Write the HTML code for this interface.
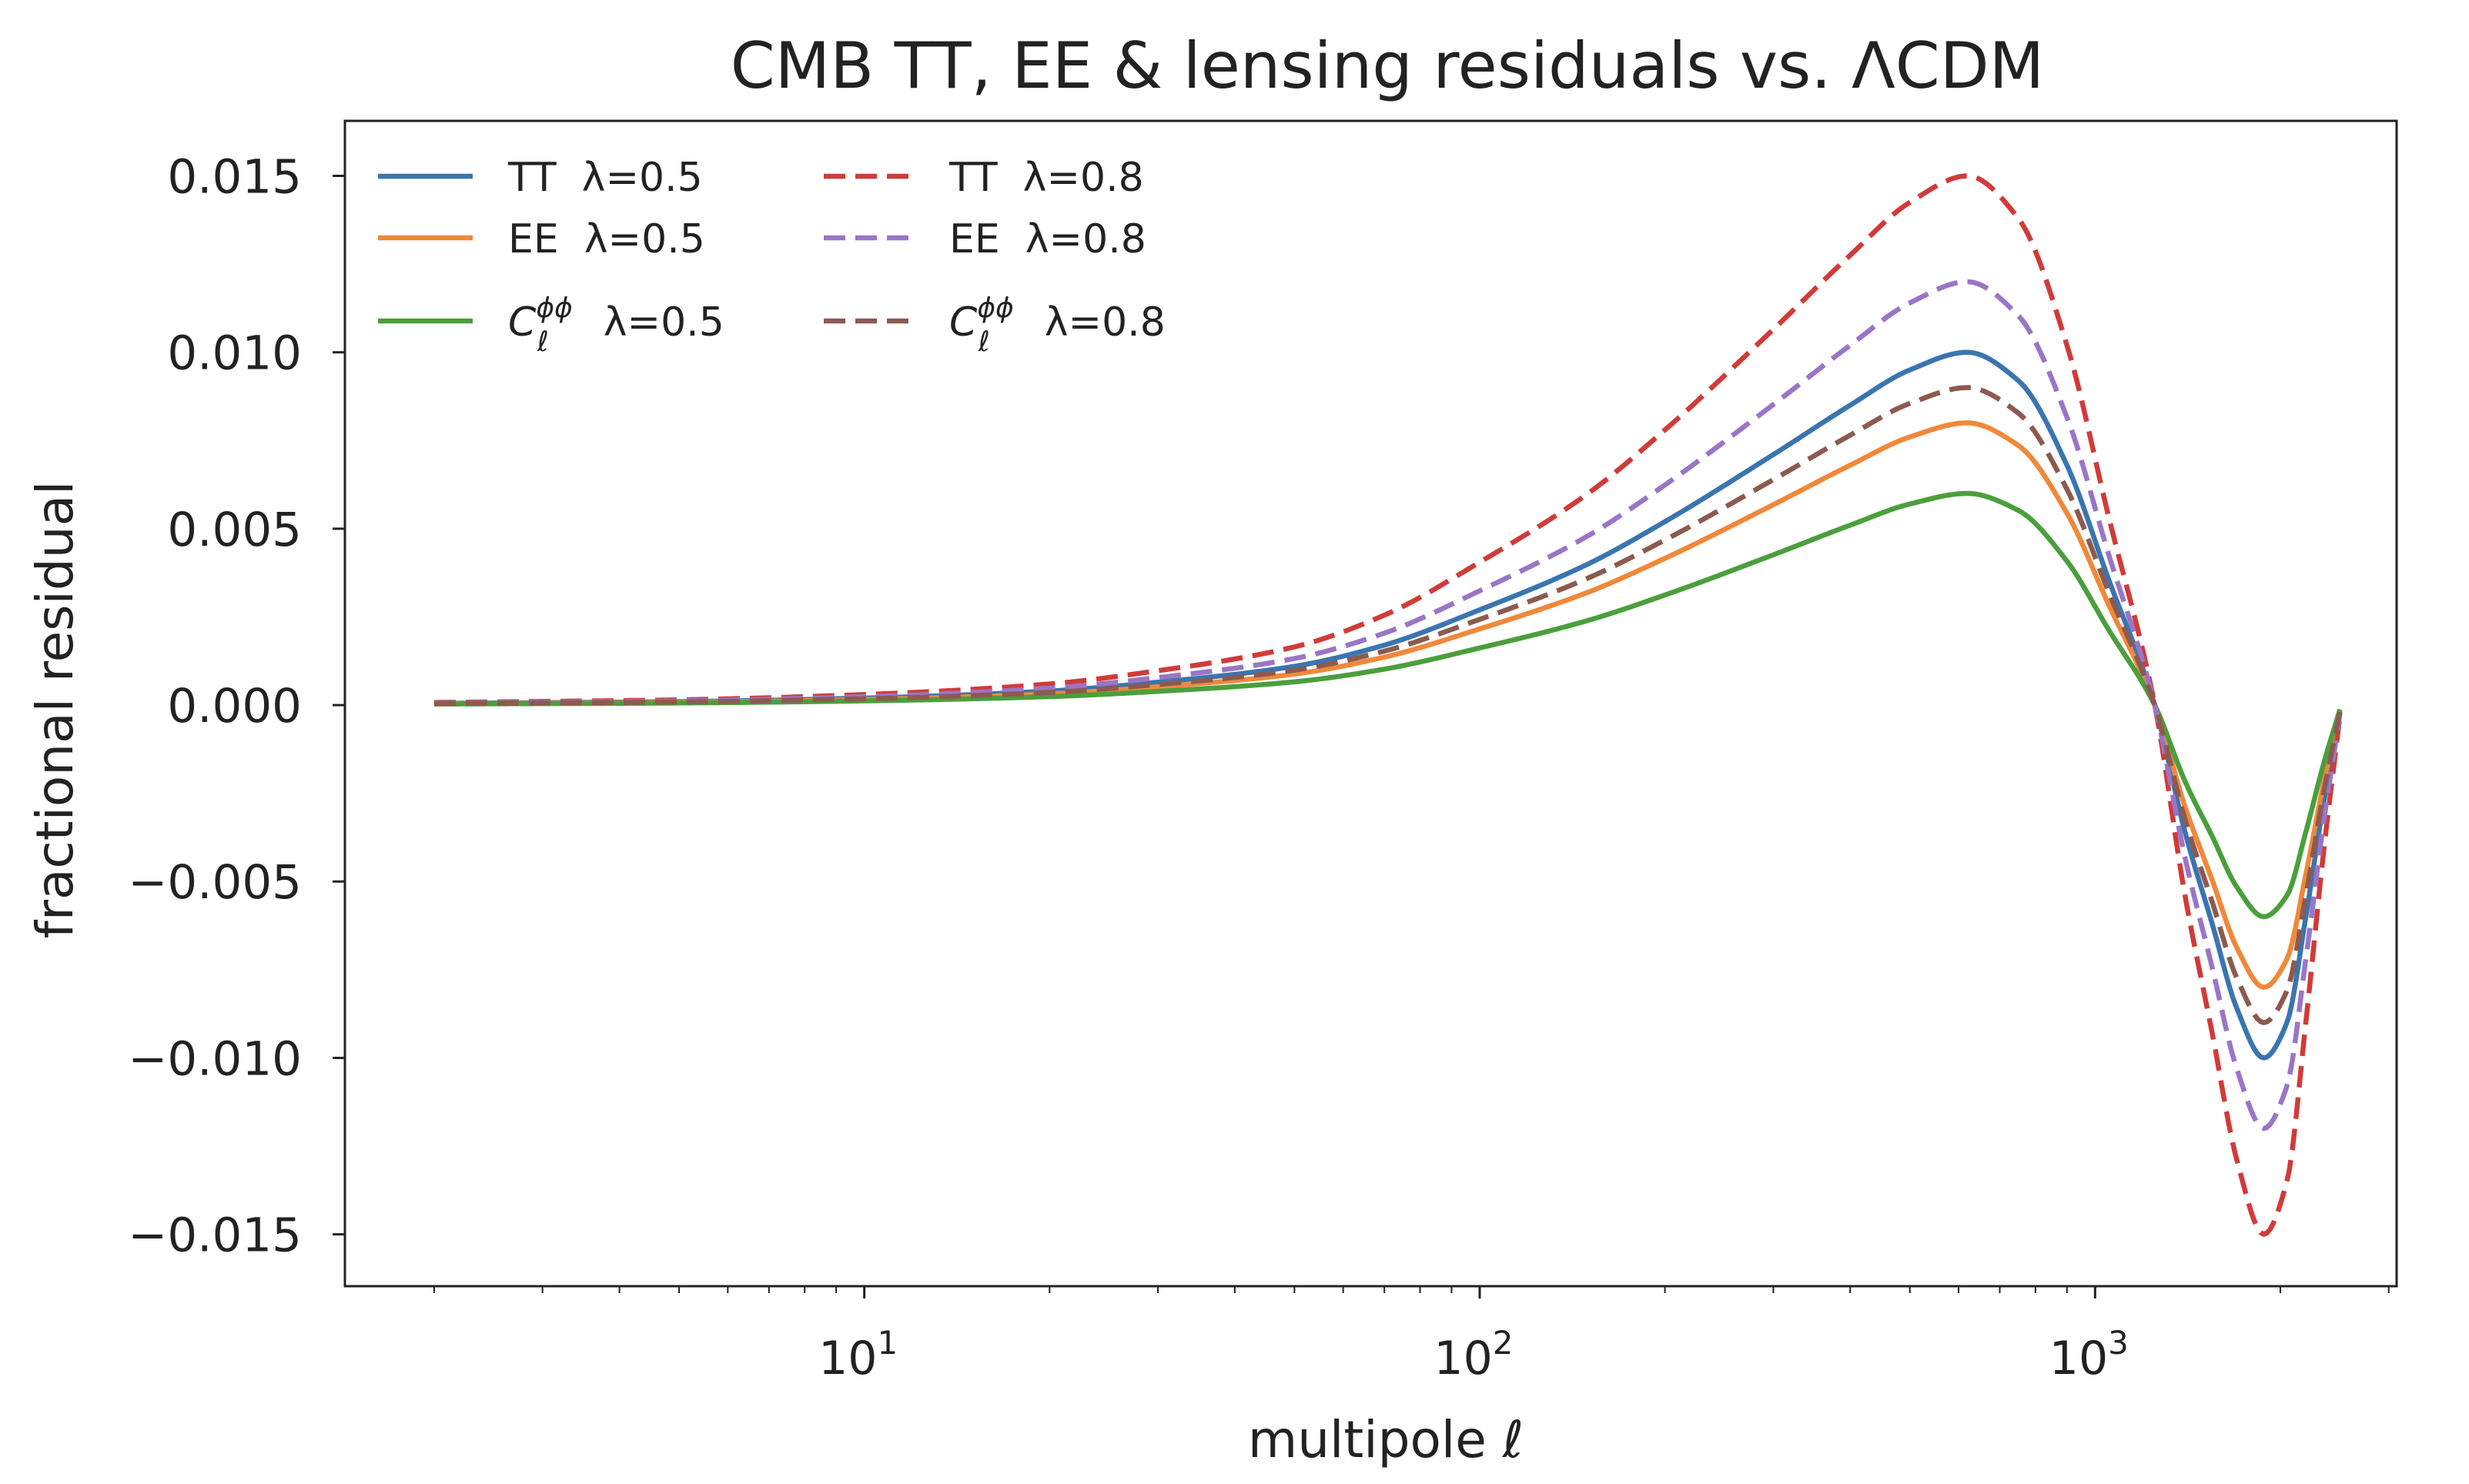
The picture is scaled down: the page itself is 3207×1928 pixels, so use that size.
<!DOCTYPE html>
<html><head><meta charset="utf-8"><style>
html,body{margin:0;padding:0;background:#fff;}
svg{display:block;font-family:"DejaVu Sans","Liberation Sans",sans-serif;}
</style></head><body>
<svg id="chart" width="3207" height="1928" viewBox="0 0 3207 1928" xmlns="http://www.w3.org/2000/svg">
<rect width="3207" height="1928" fill="#fff"/>
<text x="1802" y="114" font-size="83" text-anchor="middle" fill="#222">CMB TT, EE &amp; lensing residuals vs. ΛCDM</text>
<g id="plot"></g>
<text x="1800" y="1893" font-size="66" text-anchor="middle" fill="#222">multipole <tspan font-style="italic">ℓ</tspan></text>
<text x="0" y="0" font-size="66" text-anchor="middle" fill="#222" transform="translate(94,922) rotate(-90)">fractional residual</text>
<g id="legend"></g>
</svg>
<script>
const ells = [2,3,5,10,20,30,50,70,100,150,200,300,400,500,620,750,900,1050,1250,1400,1550,1700,1880,2050,2200,2350,2500];
const ttLam05 = [0.00005,0.00007,0.0001,0.0002,0.0004,0.00065,0.0011,0.0017,0.0027,0.004,0.0052,0.0071,0.0085,0.0095,0.01,0.0092,0.0068,0.0036,0,-0.0036,-0.0062,-0.0086,-0.01,-0.009,-0.006,-0.0028,-0.0002];
const eeLam05 = [0.00004,0.000056,0.00008,0.00016,0.00032,0.00052,0.00088,0.00136,0.00216,0.0032,0.00416,0.00568,0.0068,0.0076,0.008,0.00736,0.00544,0.00288,0,-0.00288,-0.00496,-0.00688,-0.008,-0.0072,-0.0048,-0.00224,-0.00016];
const phiLam05 = [0.00003,0.000042,0.00006,0.00012,0.00024,0.00039,0.00066,0.00102,0.00162,0.0024,0.00312,0.00426,0.0051,0.0057,0.006,0.00552,0.00408,0.00216,0,-0.00216,-0.00372,-0.00516,-0.006,-0.0054,-0.0036,-0.00168,-0.00012];
const ttLam08 = [0.000075,0.000105,0.00015,0.0003,0.0006,0.000975,0.00165,0.00255,0.00405,0.006,0.0078,0.01065,0.01275,0.01425,0.015,0.0138,0.0102,0.0054,0,-0.0054,-0.0093,-0.0129,-0.015,-0.0135,-0.009,-0.0042,-0.0003];
const eeLam08 = [0.00006,0.000084,0.00012,0.00024,0.00048,0.00078,0.00132,0.00204,0.00324,0.0048,0.00624,0.00852,0.0102,0.0114,0.012,0.01104,0.00816,0.00432,0,-0.00432,-0.00744,-0.01032,-0.012,-0.0108,-0.0072,-0.00336,-0.00024];
const phiLam08 = [0.000045,0.000063,0.00009,0.00018,0.00036,0.000585,0.00099,0.00153,0.00243,0.0036,0.00468,0.00639,0.00765,0.00855,0.009,0.00828,0.00612,0.00324,0,-0.00324,-0.00558,-0.00774,-0.009,-0.0081,-0.0054,-0.00252,-0.00018];
const yTicks = [0.015,0.010,0.005,0.000,-0.005,-0.010,-0.015];
const yTickLabels = ["0.015","0.010","0.005","0.000","\u22120.005","\u22120.010","\u22120.015"];
const xMajor = [10,100,1000];
const xMajorLabels = [["10","1"],["10","2"],["10","3"]];

const NS="http://www.w3.org/2000/svg";
const L=448,R=3113,T=157,B=1671;
const xMinLog=0.156, xMaxLog=3.49, yMin=-0.01647, yMax=0.01656;
function xs(v){return L+(Math.log10(v)-xMinLog)/(xMaxLog-xMinLog)*(R-L);}
function ys(v){return B-(v-yMin)/(yMax-yMin)*(B-T);}
function mk(tag,attrs,parent){const e=document.createElementNS(NS,tag);for(const k in attrs)e.setAttribute(k,attrs[k]);parent.appendChild(e);return e;}
const plot=document.getElementById('plot');

yTicks.forEach((v,i)=>{
  const t=mk('line',{x1:L-16,x2:L,y1:ys(v),y2:ys(v),stroke:'#222','stroke-width':3},plot);
  
  
  const tx=mk('text',{x:L-56,y:ys(v)+22,'font-size':61,'text-anchor':'end',fill:'#222'},plot);
  tx.textContent=yTickLabels[i];
  
  
});
for(let d=0;d<4;d++){for(let m=1;m<10;m++){const v=m*Math.pow(10,d);const lg=Math.log10(v);if(lg<xMinLog||lg>xMaxLog)continue;
  const major=(m===1);
  const t=mk('line',{x1:xs(v),x2:xs(v),y1:B,y2:B+(major?16:9),stroke:'#222','stroke-width':major?3:2},plot);
  
  
}}
xMajor.forEach((v,i)=>{
  const tx=mk('text',{x:xs(v)-8,y:B+114,'font-size':60,'text-anchor':'middle',fill:'#222'},plot);
  
  
  tx.textContent=xMajorLabels[i][0];
  const sp=document.createElementNS(NS,'tspan');sp.setAttribute('dy','-26');sp.setAttribute('font-size','42');sp.textContent=xMajorLabels[i][1];tx.appendChild(sp);
});

function monotone(xv,yv){
  const n=xv.length,dl=[],m=new Array(n);
  for(let i=0;i<n-1;i++)dl.push((yv[i+1]-yv[i])/(xv[i+1]-xv[i]));
  m[0]=dl[0];m[n-1]=dl[n-2];
  for(let i=1;i<n-1;i++){
    if(dl[i-1]*dl[i]<=0)m[i]=0;
    else{const w1=2*(xv[i+1]-xv[i])+(xv[i]-xv[i-1]),w2=(xv[i+1]-xv[i])+2*(xv[i]-xv[i-1]);m[i]=(w1+w2)/(w1/dl[i-1]+w2/dl[i]);}
  }
  return function(x){let j=0;while(j<n-2&&x>xv[j+1])j++;const h=xv[j+1]-xv[j],t=(x-xv[j])/h;
    const h00=2*t*t*t-3*t*t+1,h10=t*t*t-2*t*t+t,h01=-2*t*t*t+3*t*t,h11=t*t*t-t*t;
    return h00*yv[j]+h10*h*m[j]+h01*yv[j+1]+h11*h*m[j+1];};
}
function pathFor(vals){
  const lx=ells.map(e=>Math.log10(e));
  const f=monotone(lx,vals);
  let d='';
  const N=600;
  for(let k=0;k<=N;k++){const x=lx[0]+(lx[lx.length-1]-lx[0])*k/N;const px=xs(Math.pow(10,x)),py=ys(f(x));d+=(k?' L':'M')+px.toFixed(2)+','+py.toFixed(2);}
  return d;
}
const series=[
 {vals:ttLam05,color:'#3a75b0',dash:null,name:'tt-lambda-0.5'},
 {vals:eeLam05,color:'#f0883a',dash:null,name:'ee-lambda-0.5'},
 {vals:phiLam05,color:'#4a9f3c',dash:null,name:'phiphi-lambda-0.5'},
 {vals:ttLam08,color:'#d13b38',dash:'28 13',name:'tt-lambda-0.8'},
 {vals:eeLam08,color:'#9a75c7',dash:'28 13',name:'ee-lambda-0.8'},
 {vals:phiLam08,color:'#8c5a4f',dash:'28 13',name:'phiphi-lambda-0.8'}
];
const clip=mk('clipPath',{id:'pc'},plot);mk('rect',{x:L,y:T,width:R-L,height:B-T},clip);
series.forEach(s=>{
  const a={d:pathFor(s.vals),fill:'none',stroke:s.color,'stroke-width':6.5,'stroke-linejoin':'round','clip-path':'url(#pc)'};
  if(s.dash)a['stroke-dasharray']=s.dash;
  const p=mk('path',a,plot);
  
  
});
const frame=mk('rect',{x:L,y:T,width:R-L,height:B-T,fill:'none',stroke:'#222','stroke-width':3},plot);



const leg=document.getElementById('legend');
const legRows=[229,309,417];
const legCols=[[491,614,660],[1070,1186,1233]];
const legLabels=[["TT","EE","phi"],["TT","EE","phi"]];
series.forEach((s,i)=>{
  const c=Math.floor(i/3),r=i%3,y=legRows[r];
  const a={x1:legCols[c][0],x2:legCols[c][1],y1:y,y2:y,stroke:s.color,'stroke-width':6.5};
  if(s.dash)a['stroke-dasharray']=s.dash;
  const ln=mk('line',a,leg);
  
  
  const tx=mk('text',{x:legCols[c][2],y:y+19,'font-size':52,fill:'#222'},leg);
  
  
  const lam=c===0?'λ=0.5':'λ=0.8';
  if(r<2){tx.textContent=legLabels[c][r]+'\u00a0\u00a0'+lam;}
  else{
    const a1=document.createElementNS(NS,'tspan');a1.setAttribute('font-style','italic');a1.textContent='C';tx.appendChild(a1);
    const a2=document.createElementNS(NS,'tspan');a2.setAttribute('font-style','italic');a2.setAttribute('font-size','36');a2.setAttribute('dy','-24');a2.textContent='ϕϕ';tx.appendChild(a2);
    const a3=document.createElementNS(NS,'tspan');a3.setAttribute('font-style','italic');a3.setAttribute('font-size','36');a3.setAttribute('dx','-46');a3.setAttribute('dy','44');a3.textContent='ℓ';tx.appendChild(a3);
    const a4=document.createElementNS(NS,'tspan');a4.setAttribute('dx','38');a4.setAttribute('dy','-20');a4.textContent='\u00a0\u00a0'+lam;tx.appendChild(a4);
  }
});
</script>
</body></html>
